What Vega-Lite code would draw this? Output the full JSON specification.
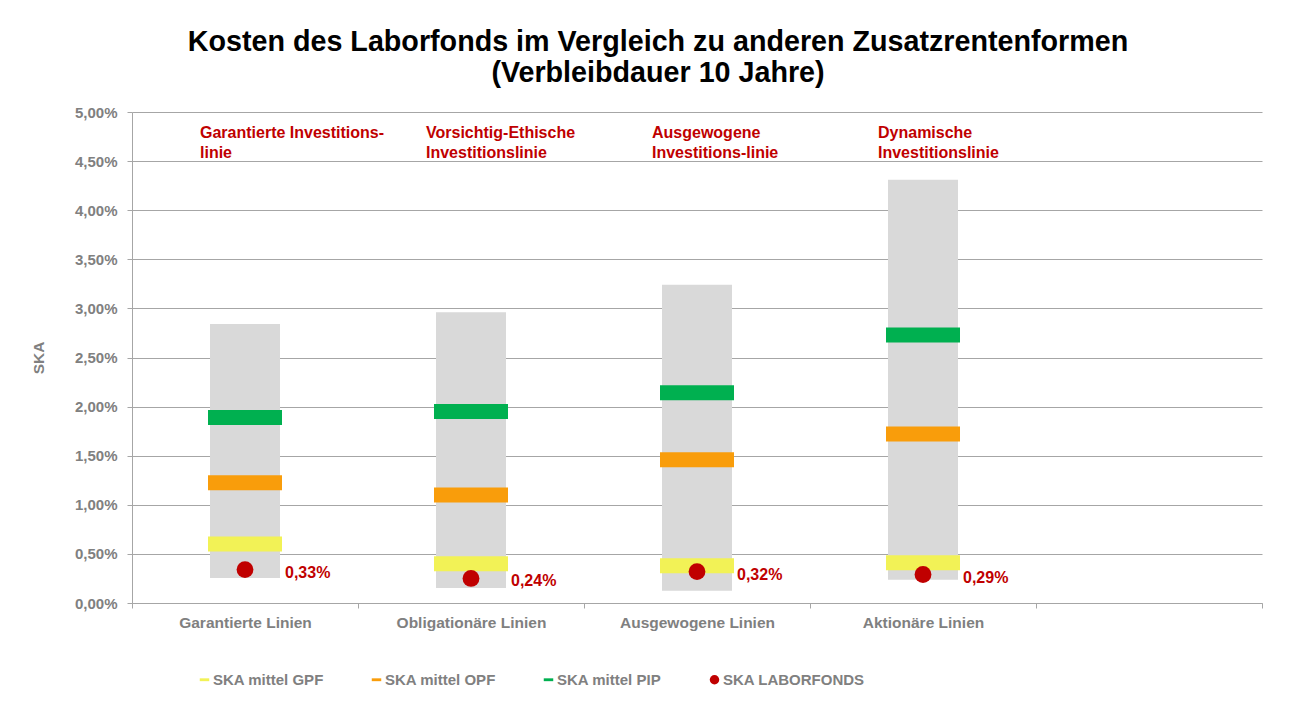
{
  "$schema": "https://vega.github.io/schema/vega-lite/v6.json",
  "width": 1130,
  "height": 491,
  "autosize": {"type": "none"},
  "padding": {"left": 132, "top": 112, "right": 31, "bottom": 99},
  "background": "white",
  "config": {
    "font": "Liberation Sans",
    "view": {"stroke": null}
  },
  "title": {
    "text": ["Kosten des Laborfonds im Vergleich zu anderen Zusatzrentenformen", "(Verbleibdauer 10 Jahre)"],
    "fontSize": 28.7,
    "fontWeight": "bold",
    "color": "#000000",
    "lineHeight": 31,
    "anchor": "middle",
    "frame": "group",
    "dx": -39,
    "offset": 17
  },
  "datasets": {
    "ranges": [
      {"cat": "Garantierte Linien", "min": 0.255, "max": 2.84},
      {"cat": "Obligationäre Linien", "min": 0.153, "max": 2.96},
      {"cat": "Ausgewogene Linien", "min": 0.125, "max": 3.24},
      {"cat": "Aktionäre Linien", "min": 0.237, "max": 4.31}
    ],
    "means": [
      {"cat": "Garantierte Linien", "series": "SKA mittel GPF", "value": 0.60},
      {"cat": "Garantierte Linien", "series": "SKA mittel OPF", "value": 1.225},
      {"cat": "Garantierte Linien", "series": "SKA mittel PIP", "value": 1.89},
      {"cat": "Obligationäre Linien", "series": "SKA mittel GPF", "value": 0.40},
      {"cat": "Obligationäre Linien", "series": "SKA mittel OPF", "value": 1.10},
      {"cat": "Obligationäre Linien", "series": "SKA mittel PIP", "value": 1.95},
      {"cat": "Ausgewogene Linien", "series": "SKA mittel GPF", "value": 0.38},
      {"cat": "Ausgewogene Linien", "series": "SKA mittel OPF", "value": 1.46},
      {"cat": "Ausgewogene Linien", "series": "SKA mittel PIP", "value": 2.14},
      {"cat": "Aktionäre Linien", "series": "SKA mittel GPF", "value": 0.41},
      {"cat": "Aktionäre Linien", "series": "SKA mittel OPF", "value": 1.72},
      {"cat": "Aktionäre Linien", "series": "SKA mittel PIP", "value": 2.73}
    ],
    "labor": [
      {"cat": "Garantierte Linien", "series": "SKA LABORFONDS", "value": 0.34, "label": "0,33%"},
      {"cat": "Obligationäre Linien", "series": "SKA LABORFONDS", "value": 0.25, "label": "0,24%"},
      {"cat": "Ausgewogene Linien", "series": "SKA LABORFONDS", "value": 0.32, "label": "0,32%"},
      {"cat": "Aktionäre Linien", "series": "SKA LABORFONDS", "value": 0.29, "label": "0,29%"}
    ],
    "notes": [
      {"cat": "Garantierte Linien", "note": "Garantierte Investitions-\nlinie"},
      {"cat": "Obligationäre Linien", "note": "Vorsichtig-Ethische\nInvestitionslinie"},
      {"cat": "Ausgewogene Linien", "note": "Ausgewogene\nInvestitions-linie"},
      {"cat": "Aktionäre Linien", "note": "Dynamische\nInvestitionslinie"}
    ]
  },
  "encoding": {
    "x": {
      "field": "cat",
      "type": "nominal",
      "sort": null,
      "scale": {
        "domain": ["Garantierte Linien", "Obligationäre Linien", "Ausgewogene Linien", "Aktionäre Linien", "leer"],
        "paddingInner": 0,
        "paddingOuter": 0
      },
      "axis": {
        "title": null,
        "labelAngle": 0,
        "labelExpr": "datum.value == 'leer' ? '' : datum.value",
        "labelFontSize": 15.5,
        "labelFontWeight": "bold",
        "labelColor": "#808080",
        "labelPadding": 7,
        "tickBand": "extent",
        "tickSize": 5,
        "tickColor": "#a6a6a6",
        "domainColor": "#a6a6a6",
        "grid": false
      }
    }
  },
  "layer": [
    {
      "data": {"name": "ranges"},
      "mark": {"type": "bar", "width": 70, "color": "#d9d9d9"},
      "encoding": {
        "y": {
          "field": "min",
          "type": "quantitative",
          "scale": {"domain": [0, 5], "nice": false, "zero": true},
          "axis": {
            "title": "SKA",
            "titleFontSize": 15.5,
            "titleFontWeight": "bold",
            "titleColor": "#808080",
            "titlePadding": 28,
            "values": [0, 0.5, 1, 1.5, 2, 2.5, 3, 3.5, 4, 4.5, 5],
            "labelExpr": "replace(format(datum.value, '.2f'), '.', ',') + '%'",
            "labelFontSize": 15,
            "labelFontWeight": "bold",
            "labelColor": "#808080",
            "labelPadding": 10,
            "tickSize": 5,
            "tickColor": "#a6a6a6",
            "domainColor": "#a6a6a6",
            "grid": true,
            "gridColor": "#a6a6a6",
            "gridWidth": 1
          }
        },
        "y2": {"field": "max"}
      }
    },
    {
      "data": {"name": "means"},
      "mark": {"type": "tick", "size": 74, "thickness": 15, "opacity": 1},
      "encoding": {
        "y": {"field": "value", "type": "quantitative"},
        "color": {
          "field": "series",
          "type": "nominal",
          "scale": {
            "domain": ["SKA mittel GPF", "SKA mittel OPF", "SKA mittel PIP", "SKA LABORFONDS"],
            "range": ["#f2f256", "#f99d0b", "#00b050", "#c00000"]
          },
          "legend": {
            "title": null,
            "orient": "none",
            "legendX": 65,
            "legendY": 560,
            "direction": "horizontal",
            "labelFontSize": 15,
            "labelFontWeight": "bold",
            "labelColor": "#808080",
            "labelOffset": 1,
            "symbolSize": 90,
            "symbolStrokeWidth": 0,
            "columnPadding": 45
          }
        }
      }
    },
    {
      "data": {"name": "labor"},
      "mark": {"type": "point", "filled": true, "size": 283, "opacity": 1},
      "encoding": {
        "y": {"field": "value", "type": "quantitative"},
        "color": {
          "field": "series",
          "type": "nominal",
          "scale": {
            "domain": ["SKA mittel GPF", "SKA mittel OPF", "SKA mittel PIP", "SKA LABORFONDS"],
            "range": ["#f2f256", "#f99d0b", "#00b050", "#c00000"]
          },
          "legend": {
            "title": null,
            "orient": "none",
            "legendX": 65,
            "legendY": 560,
            "direction": "horizontal",
            "labelFontSize": 15,
            "labelFontWeight": "bold",
            "labelColor": "#808080",
            "labelOffset": 1,
            "symbolSize": 90,
            "symbolStrokeWidth": 0,
            "columnPadding": 45
          }
        },
        "shape": {
          "field": "series",
          "type": "nominal",
          "scale": {
            "domain": ["SKA mittel GPF", "SKA mittel OPF", "SKA mittel PIP", "SKA LABORFONDS"],
            "range": ["M-1,-0.3H1V0.3H-1Z", "M-1,-0.3H1V0.3H-1Z", "M-1,-0.3H1V0.3H-1Z", "circle"]
          },
          "legend": {
            "title": null,
            "orient": "none",
            "legendX": 65,
            "legendY": 560,
            "direction": "horizontal",
            "labelFontSize": 15,
            "labelFontWeight": "bold",
            "labelColor": "#808080",
            "labelOffset": 1,
            "symbolSize": 90,
            "symbolStrokeWidth": 0,
            "columnPadding": 45
          }
        }
      }
    },
    {
      "data": {"name": "labor"},
      "mark": {"type": "text", "align": "left", "baseline": "middle", "dx": 40, "dy": 3, "fontSize": 16, "fontWeight": "bold", "color": "#c00000"},
      "encoding": {
        "y": {"field": "value", "type": "quantitative"},
        "text": {"field": "label", "type": "nominal"}
      }
    },
    {
      "data": {"name": "notes"},
      "mark": {"type": "text", "align": "left", "baseline": "top", "dx": -45, "lineBreak": "\n", "lineHeight": 20, "fontSize": 16, "fontWeight": "bold", "color": "#c00000"},
      "encoding": {
        "y": {"datum": 4.87, "type": "quantitative"},
        "text": {"field": "note", "type": "nominal"}
      }
    }
  ]
}
